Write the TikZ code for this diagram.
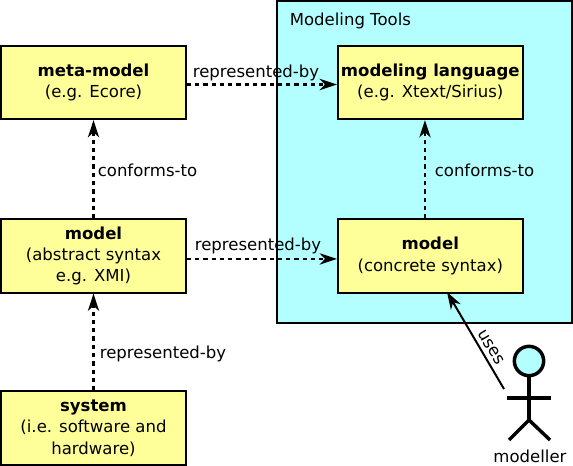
\documentclass[tikz,border=0pt]{standalone}
\usepackage{fontspec}
\setmainfont{DejaVu Sans}
\usepackage{tikz}
\usetikzlibrary{arrows.meta, positioning}

\definecolor{boxyellow}{HTML}{FFFF99}
\definecolor{toolcyan}{HTML}{B3FFFF}

\tikzset{
	artefact/.style={draw=black, line width=1.5pt, fill=boxyellow, minimum width=138.5pt, minimum height=55pt, inner sep=0pt, align=center, font=\fontsize{12.4pt}{16pt}\selectfont},
	relation/.style={draw=black, line width=1.6pt, dash pattern=on 3.2pt off 3pt, -{Stealth[inset=4pt, length=13pt, width=8.5pt]}},
	edgelabel/.style={inner sep=0pt, font=\fontsize{12.4pt}{16pt}\selectfont},
	limb/.style={draw=black, line width=2.6pt}
}

\begin{document}
\begin{tikzpicture}[x=0.75pt, y=-0.75pt]
	\useasboundingbox (0,0) rectangle (573,466);

	% Werkzeugbereich
	\node[draw=black, line width=1.5pt, fill=toolcyan, minimum width=221.3pt, minimum height=241pt, inner sep=0pt] (tools) at (424.5,162) {};
	\node[edgelabel, anchor=west] (toolstitle) at (289.5,21) {Modeling Tools};

	% Artefakte
	\node[artefact] (metamodel) at (93.5,82.5) {\textbf{meta-model}\\(e.g. Ecore)};
	\node[artefact] (language) at (430.3,82.5) {\textbf{modeling language}\\(e.g. Xtext/Sirius)};
	\node[artefact] (model) at (93.5,256) {\textbf{model}\\(abstract syntax\\e.g. XMI)};
	\node[artefact] (concrete) at (430.3,256) {\textbf{model}\\(concrete syntax)};
	\node[artefact] (system) at (93.5,428) {\textbf{system}\\(i.e. software and\\hardware)};

	% Beziehungen
	\draw[relation] (model) -- (metamodel);
	\draw[relation] (system) -- (model);
	\draw[relation] ([xshift=-4pt]concrete.north) -- ([xshift=-4pt]language.south);
	\draw[relation] ([yshift=-1.5pt]metamodel.east) -- ([yshift=-1.5pt]language.west);
	\draw[relation] ([yshift=-2.2pt]model.east) -- ([yshift=-2.2pt]concrete.west);

	\node[edgelabel] (repr1) at (256,73) {represented-by};
	\node[edgelabel] (repr2) at (258,246) {represented-by};
	\node[edgelabel] (repr3) at (163,354) {represented-by};
	\node[edgelabel] (conf1) at (147.5,170.5) {conforms-to};
	\node[edgelabel] (conf2) at (484.5,170.5) {conforms-to};

	% Akteur
	\node[draw=black, line width=2.6pt, fill=toolcyan, circle, minimum size=22pt, inner sep=0pt] (head) at (529,361) {};
	\coordinate (hip) at (529,420);
	\coordinate (handl) at (507,398);
	\coordinate (handr) at (551,398);
	\coordinate (footl) at (509,440);
	\coordinate (footr) at (550,440);
	\draw[limb] (head) -- (hip);
	\draw[limb] (handl) -- (handr);
	\draw[limb] (footl) -- (hip) -- (footr);
	\node[edgelabel] (modeller) at (530,456) {modeller};

	\coordinate (usesstart) at (504,389);
	\coordinate (usesend) at (447,292);
	\draw[line width=1.5pt, -{Stealth[inset=4pt, length=13pt, width=8.5pt]}] (usesstart) -- (usesend);
	\node[edgelabel, rotate=-59] (uses) at (491,347) {uses};
\end{tikzpicture}
\end{document}
